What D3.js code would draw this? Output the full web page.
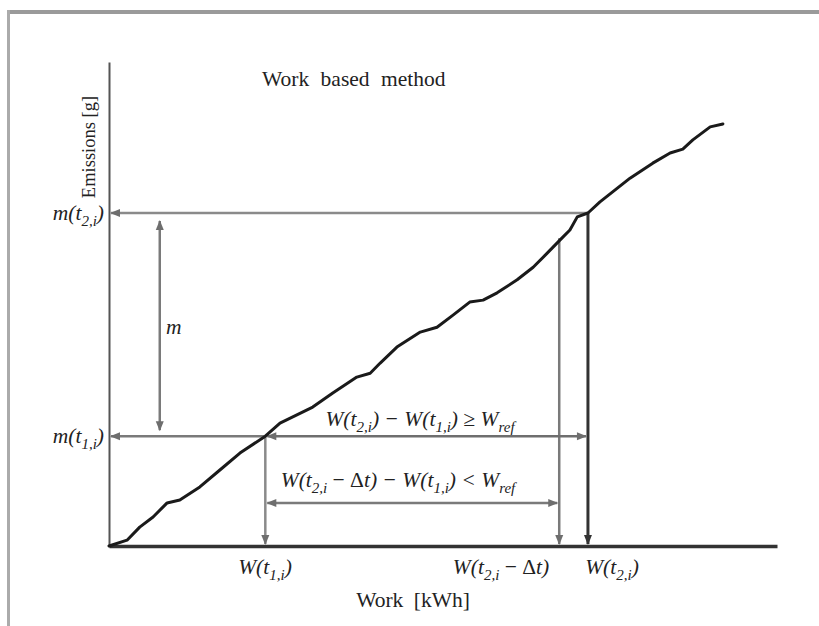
<!DOCTYPE html>
<html>
<head>
<meta charset="utf-8">
<script src="https://cdn.jsdelivr.net/npm/d3@7"></script>
<style>
  body { margin: 0; background: #fff; }
  text { font-family: "Liberation Serif", "DejaVu Serif", serif; fill: #222; }
</style>
</head>
<body>
<div id="chart"></div>
<script>
// cumulative work (x) and emissions (y) (0..100 units)
var workVals = [0, 2.7, 4.6, 6.6, 8.7, 10.6, 13.6, 16.6, 19.6, 23.4, 25.6, 30.5, 33.5, 37.1, 39.1, 40.6,
                43.1, 46.6, 49.1, 51.5, 54.0, 56.0, 58.1, 61.1, 63.5, 65.6, 67.5, 69.0, 70.1, 71.7,
                73.5, 78.0, 81.4, 84.0, 85.9, 87.4, 90.0, 91.9];
var emisVals = [0, 1.2, 3.9, 6.0, 8.9, 9.5, 12.2, 15.7, 19.2, 22.7, 25.4, 28.7, 31.6, 34.9, 35.7, 37.8,
                41.1, 44.2, 45.2, 47.7, 50.4, 50.8, 52.3, 55.0, 57.6, 60.5, 63.2, 65.3, 68.0, 68.8,
                71.1, 76.0, 79.1, 81.2, 82.0, 83.9, 86.6, 87.2];

// window start / end points
var t1 = {work: 23.4, emis: 22.7},
    t2 = {work: 71.7, emis: 68.8},
    t2dt = {work: 67.4, emis: 63.6};
var mArrowWork = 7.6,       // where the "m" double arrow sits
    lowArrowEmis = 8.9;     // level of the W(t2,i - dt) arrow

var width = 819, height = 626;

var svg = d3.select("#chart").append("svg")
  .attr("width", width)
  .attr("height", height);

// frame of the scanned figure
svg.append("line").attr("x1", 7).attr("x2", width).attr("y1", 12).attr("y2", 12)
  .attr("stroke", "#9a9a9a").attr("stroke-width", 4);
svg.append("line").attr("x1", 8.5).attr("x2", 8.5).attr("y1", 10).attr("y2", height)
  .attr("stroke", "#ababab").attr("stroke-width", 3);

var x = d3.scaleLinear().domain([0, 100]).range([109, 777]);
var y = d3.scaleLinear().domain([0, 100]).range([546, 62]);

var defs = svg.append("defs");
function marker(id, colour) {
  defs.append("marker")
    .attr("id", id)
    .attr("viewBox", "0 0 10 10")
    .attr("refX", 9).attr("refY", 5)
    .attr("markerUnits", "userSpaceOnUse")
    .attr("markerWidth", 11).attr("markerHeight", 10)
    .attr("orient", "auto-start-reverse")
    .append("path")
    .attr("d", "M0,1 L10,5 L0,9 Z")
    .attr("fill", colour);
}
marker("arrGrey", "#6e6e6e");
marker("arrDark", "#333");

// axes
svg.append("g")
  .attr("transform", "translate(" + x(0) + ",0)")
  .call(d3.axisLeft(y).ticks(0).tickSizeOuter(0))
  .select(".domain").attr("stroke", "#555").attr("stroke-width", 2);

svg.append("g")
  .attr("transform", "translate(0," + y(0) + ")")
  .call(d3.axisBottom(x).ticks(0).tickSizeOuter(0))
  .select(".domain").attr("stroke", "#333").attr("stroke-width", 3.5);

// guide arrows
function arrow(x1, y1, x2, y2, colour, w, both, mk) {
  var l = svg.append("line")
    .attr("x1", x1).attr("y1", y1).attr("x2", x2).attr("y2", y2)
    .attr("stroke", colour).attr("stroke-width", w)
    .attr("marker-end", "url(#" + mk + ")");
  if (both) l.attr("marker-start", "url(#" + mk + ")");
  return l;
}

// m(t2,i) and m(t1,i) levels
arrow(x(t2.work), y(t2.emis), x(0) + 2, y(t2.emis), "#8a8a8a", 2.5, false, "arrGrey");
arrow(x(t1.work), y(t1.emis), x(0) + 2, y(t1.emis), "#7a7a7a", 2.5, false, "arrGrey");
// m
arrow(x(mArrowWork), y(t2.emis) + 8, x(mArrowWork), y(t1.emis) - 6, "#7a7a7a", 2.5, true, "arrGrey");
// verticals down to the work axis
arrow(x(t1.work), y(t1.emis), x(t1.work), y(0) - 2, "#8a8a8a", 2.5, false, "arrGrey");
arrow(x(t2dt.work), y(t2dt.emis), x(t2dt.work), y(0) - 2, "#7a7a7a", 2.5, false, "arrGrey");
arrow(x(t2.work), y(t2.emis), x(t2.work), y(0) - 2, "#333", 3, false, "arrDark");
// work spans
arrow(x(t1.work) + 2, y(t1.emis), x(t2.work) - 2, y(t1.emis), "#6e6e6e", 2.5, true, "arrGrey");
arrow(x(t1.work) + 2, y(lowArrowEmis), x(t2dt.work) - 2, y(lowArrowEmis), "#7a7a7a", 2.5, true, "arrGrey");

// emissions curve
var pts = workVals.map(function(w, i) { return [w, emisVals[i]]; });
var line = d3.line()
  .x(function(d) { return x(d[0]); })
  .y(function(d) { return y(d[1]); });
svg.append("path")
  .datum(pts)
  .attr("d", line)
  .attr("fill", "none")
  .attr("stroke", "#1a1a1a")
  .attr("stroke-width", 3)
  .attr("stroke-linejoin", "round")
  .attr("stroke-linecap", "round");

// math labels: [text, kind] with kind i = italic, s = italic subscript, r = roman
function mathText(px, py, anchor, parts) {
  var t = svg.append("text")
    .attr("x", px).attr("y", py)
    .attr("text-anchor", anchor)
    .style("font-size", "21.5px");
  var shift = 0;
  parts.forEach(function(p) {
    var ts = t.append("tspan").text(p[0]);
    if (p[1] === "s") {
      ts.attr("dy", 6 - shift).style("font-size", "15px").style("font-style", "italic");
      shift = 6;
    } else {
      ts.attr("dy", -shift).style("font-style", p[1] === "i" ? "italic" : "normal");
      shift = 0;
    }
  });
  return t;
}

mathText(104, 220, "end", [["m(t", "i"], ["2,i", "s"], [")", "i"]]);
mathText(104, 443, "end", [["m(t", "i"], ["1,i", "s"], [")", "i"]]);
mathText(166, 334, "start", [["m", "i"]]);

mathText(420, 426, "middle", [["W(t", "i"], ["2,i", "s"], [") \u2212 W(t", "i"], ["1,i", "s"],
  [") \u2265 W", "i"], ["ref", "s"]]);
mathText(398, 487, "middle", [["W(t", "i"], ["2,i", "s"], [" \u2212 ", "r"], ["\u0394", "r"], ["t) \u2212 W(t", "i"],
  ["1,i", "s"], [") < W", "i"], ["ref", "s"]]);

mathText(265, 574, "middle", [["W(t", "i"], ["1,i", "s"], [")", "i"]]);
mathText(501, 574, "middle", [["W(t", "i"], ["2,i", "s"], [" \u2212 ", "r"], ["\u0394", "r"], ["t)", "i"]]);
mathText(612, 574, "middle", [["W(t", "i"], ["2,i", "s"], [")", "i"]]);

// titles
svg.append("text")
  .attr("x", 262).attr("y", 86)
  .style("font-size", "21.5px")
  .style("word-spacing", "6px")
  .text("Work based method");

svg.append("text")
  .attr("x", 413).attr("y", 607)
  .attr("text-anchor", "middle")
  .style("font-size", "21.5px")
  .style("word-spacing", "5px")
  .text("Work [kWh]");

svg.append("text")
  .attr("transform", "translate(95,147) rotate(-90)")
  .attr("text-anchor", "middle")
  .style("font-size", "18.5px")
  .text("Emissions [g]");
</script>
</body>
</html>
